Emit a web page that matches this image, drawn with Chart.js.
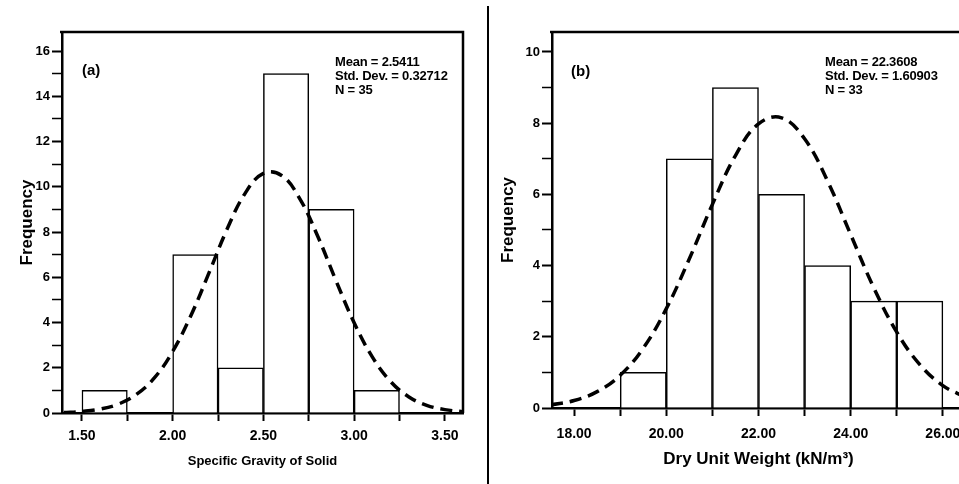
<!DOCTYPE html>
<html>
<head>
<meta charset="utf-8">
<script src="https://cdn.jsdelivr.net/npm/chart.js@4.4.1/dist/chart.umd.min.js"></script>
<style>
    html, body { margin: 0; padding: 0; background: #fff; overflow: hidden; }
    body { width: 959px; height: 484px; position: relative; font-family: "Liberation Sans", Arial, sans-serif; }
    .panel { position: absolute; top: 0; height: 484px; }
    .divider { position: absolute; left: 487px; top: 6px; width: 2px; height: 478px; background: #000; }
    .stats { position: absolute; font-weight: bold; font-size: 13px; line-height: 14px; letter-spacing: -0.2px; color: #000; white-space: nowrap; }
    .tag { position: absolute; font-weight: bold; font-size: 15px; color: #000; }
</style>
</head>
<body>
<div class="panel" style="left:0;width:487px;"><canvas id="chart-a" width="487" height="484"></canvas></div>
<div class="divider"></div>
<div class="panel" style="left:489px;width:500px;"><canvas id="chart-b" width="500" height="484"></canvas></div>

<div class="tag" style="left:82px;top:61px;">(a)</div>
<div class="stats" style="left:335px;top:55px;">Mean = 2.5411<br>Std. Dev. = 0.32712<br>N = 35</div>

<div class="tag" style="left:571px;top:62px;">(b)</div>
<div class="stats" style="left:825px;top:55px;">Mean = 22.3608<br>Std. Dev. = 1.60903<br>N = 33</div>

<script>
// (a) specific gravity of solids
const binStartsA = [1.50, 1.75, 2.00, 2.25, 2.50, 2.75, 3.00];
const countsA = [1, 0, 7, 2, 15, 9, 1];
const binWidthA = 0.25;
const curveXA = [1.40, 1.50, 1.60, 1.70, 1.80, 1.90, 2.00, 2.10, 2.20, 2.30, 2.40, 2.50,
                 2.60, 2.70, 2.80, 2.90, 3.00, 3.10, 3.20, 3.30, 3.40, 3.50, 3.60];
const curveYA = [0.02, 0.07, 0.17, 0.39, 0.82, 1.56, 2.72, 4.30, 6.19, 8.13, 9.72, 10.59,
                 10.50, 9.48, 7.80, 5.85, 3.99, 2.48, 1.40, 0.72, 0.34, 0.15, 0.06];
const xTicksA = [1.50, 1.75, 2.00, 2.25, 2.50, 2.75, 3.00, 3.25, 3.50];
const xLabelsA = ['1.50', '', '2.00', '', '2.50', '', '3.00', '', '3.50'];
const yTicksA = [0, 1, 2, 3, 4, 5, 6, 7, 8, 9, 10, 11, 12, 13, 14, 15, 16];
const yLabelsA = ['0', '', '2', '', '4', '', '6', '', '8', '', '10', '', '12', '', '14', '', '16'];

// (b) dry unit weight
const binStartsB = [19, 20, 21, 22, 23, 24, 25];
const countsB = [1, 7, 9, 6, 4, 3, 3];
const binWidthB = 1;
const curveXB = [17.5, 18.0, 18.5, 19.0, 19.5, 20.0, 20.5, 21.0, 21.5, 22.0,
                 22.5, 23.0, 23.5, 24.0, 24.5, 25.0, 25.5, 26.0, 26.5];
const curveYB = [0.09, 0.21, 0.46, 0.92, 1.68, 2.79, 4.19, 5.72, 7.09, 7.98,
                 8.15, 7.56, 6.37, 4.87, 3.38, 2.13, 1.22, 0.63, 0.30];
const xTicksB = [18, 19, 20, 21, 22, 23, 24, 25, 26];
const xLabelsB = ['18.00', '', '20.00', '', '22.00', '', '24.00', '', '26.00'];
const yTicksB = [0, 1, 2, 3, 4, 5, 6, 7, 8, 9, 10];
const yLabelsB = ['0', '', '2', '', '4', '', '6', '', '8', '', '10'];

Chart.defaults.font.family = '"Liberation Sans", Arial, sans-serif';
Chart.defaults.color = '#000';

// draws the top and right edges of the plot box
const frameBox = {
    id: 'frameBox',
    afterDatasetsDraw(chart) {
        const { ctx, chartArea } = chart;
        ctx.save();
        ctx.strokeStyle = '#000';
        ctx.lineWidth = 2.5;
        ctx.beginPath();
        ctx.moveTo(chartArea.left - 2, chartArea.top);
        ctx.lineTo(chartArea.right, chartArea.top);
        ctx.lineTo(chartArea.right, chartArea.bottom);
        ctx.stroke();
        ctx.restore();
    }
};

function buildHistogram(canvasId, opts) {
    const bars = opts.binStarts.map((start, i) => ({ x: start + opts.binWidth / 2, y: opts.counts[i] }));
    const curve = opts.curveX.map((x, i) => ({ x: x, y: opts.curveY[i] }));

    return new Chart(document.getElementById(canvasId), {
        data: {
            datasets: [
                {
                    type: 'bar',
                    data: bars,
                    backgroundColor: '#fff',
                    borderColor: '#000',
                    borderWidth: 1.5,
                    barPercentage: 1,
                    categoryPercentage: 1,
                    order: 2
                },
                {
                    type: 'line',
                    data: curve,
                    borderColor: '#000',
                    borderWidth: 3.5,
                    borderDash: [12, 7],
                    pointRadius: 0,
                    tension: 0.4,
                    fill: false,
                    order: 1
                }
            ]
        },
        options: {
            responsive: false,
            animation: false,
            layout: { padding: { top: 32, right: opts.padRight, left: 0, bottom: 0 } },
            plugins: { legend: { display: false }, tooltip: { enabled: false } },
            scales: {
                x: {
                    type: 'linear',
                    offset: false,
                    min: opts.xMin,
                    max: opts.xMax,
                    afterBuildTicks: scale => { scale.ticks = opts.xTicks.map(v => ({ value: v })); },
                    afterFit: scale => { scale.height = opts.xAxisHeight; },
                    grid: {
                        drawOnChartArea: false,
                        offset: false,
                        tickLength: 8,
                        tickColor: '#000',
                        tickWidth: 2
                    },
                    border: { color: '#000', width: 2.5 },
                    ticks: {
                        autoSkip: false,
                        maxRotation: 0,
                        padding: opts.xTickPad,
                        font: { size: 14, weight: 'bold' },
                        callback: value => opts.xLabels[opts.xTicks.indexOf(value)]
                    },
                    title: {
                        display: true,
                        text: opts.xTitle,
                        font: { size: opts.xTitleSize, weight: 'bold' },
                        padding: { top: 0, bottom: opts.xTitlePad }
                    }
                },
                y: {
                    type: 'linear',
                    min: 0,
                    max: opts.yMax,
                    afterBuildTicks: scale => { scale.ticks = opts.yTicks.map(v => ({ value: v })); },
                    afterFit: scale => { scale.width = opts.yAxisWidth; },
                    grid: {
                        drawOnChartArea: false,
                        tickLength: 10,
                        tickColor: '#000',
                        tickWidth: ctx => (ctx.tick && ctx.tick.value % 2 === 0 ? 2 : 1.5)
                    },
                    border: { color: '#000', width: 2.5 },
                    ticks: {
                        autoSkip: false,
                        padding: 2,
                        font: { size: 13, weight: 'bold' },
                        callback: value => opts.yLabels[opts.yTicks.indexOf(value)]
                    },
                    title: {
                        display: true,
                        text: 'Frequency',
                        font: { size: 17, weight: 'bold' },
                        padding: { top: opts.yTitlePad, bottom: 0 }
                    }
                }
            }
        },
        plugins: [frameBox]
    });
}

buildHistogram('chart-a', {
    binStarts: binStartsA, counts: countsA, binWidth: binWidthA,
    curveX: curveXA, curveY: curveYA,
    xTicks: xTicksA, xLabels: xLabelsA, yTicks: yTicksA, yLabels: yLabelsA,
    xMin: 1.39, xMax: 3.60, yMax: 16.84,
    xTitle: 'Specific Gravity of Solid', xTitleSize: 13, xTitlePad: 15,
    padRight: 24, yAxisWidth: 62, xAxisHeight: 71, xTickPad: 7, yTitlePad: 17
});

buildHistogram('chart-b', {
    binStarts: binStartsB, counts: countsB, binWidth: binWidthB,
    curveX: curveXB, curveY: curveYB,
    xTicks: xTicksB, xLabels: xLabelsB, yTicks: yTicksB, yLabels: yLabelsB,
    xMin: 17.52, xMax: 26.48, yMax: 10.56,
    xTitle: 'Dry Unit Weight (kN/m³)', xTitleSize: 17, xTitlePad: 14,
    padRight: 24, yAxisWidth: 63, xAxisHeight: 76, xTickPad: 10, yTitlePad: 9
});
</script>
</body>
</html>
